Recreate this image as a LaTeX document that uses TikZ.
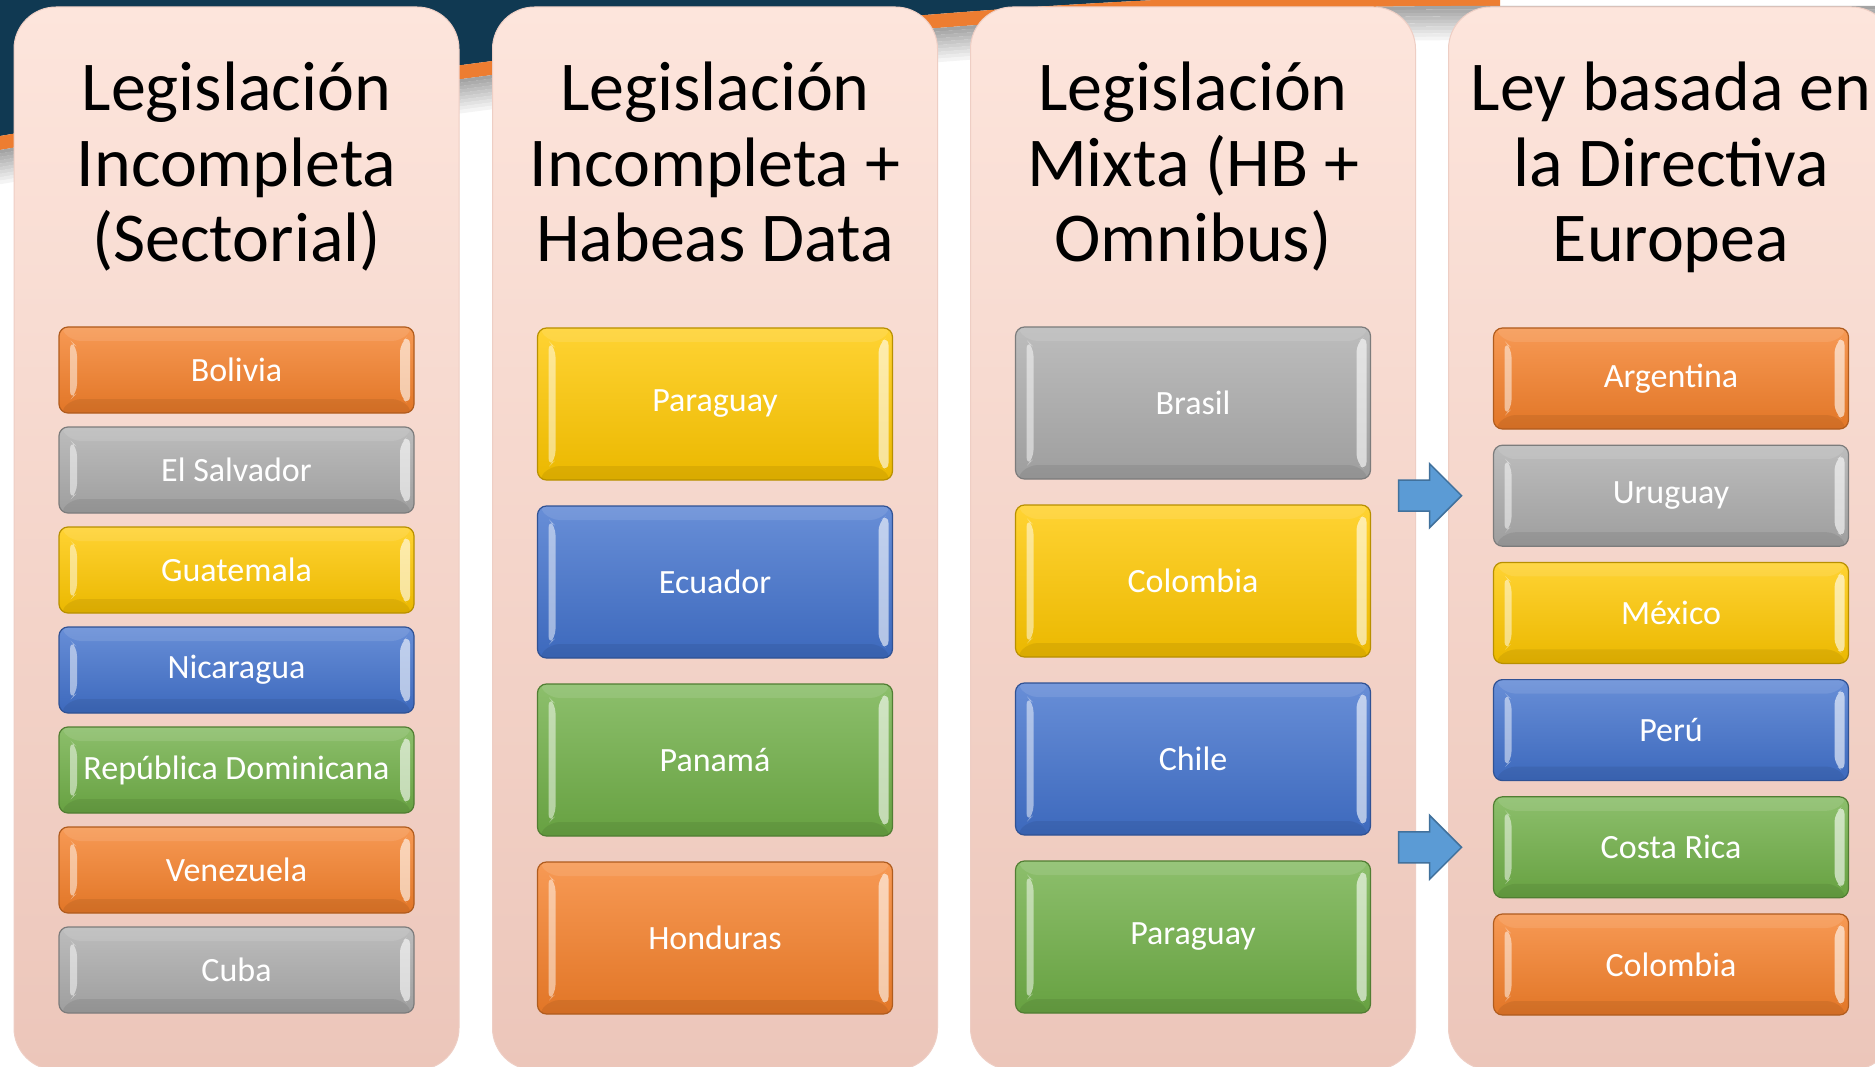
\documentclass[tikz,border=0pt]{standalone}
\usepackage{fontspec}
\setmainfont{Carlito}
\usepackage{tikz}
\usetikzlibrary{positioning}

\definecolor{navyBg}{RGB}{16,57,82}
\definecolor{stripeOrange}{RGB}{237,125,49}
\definecolor{paneTop}{RGB}{253,229,220}
\definecolor{paneBot}{RGB}{236,198,186}
\definecolor{paneEdge}{RGB}{238,206,196}
\definecolor{cOrange}{RGB}{245,128,42}
\definecolor{cGray}{RGB}{172,172,172}
\definecolor{cYellow}{RGB}{255,200,0}
\definecolor{cBlue}{RGB}{66,114,205}
\definecolor{cGreen}{RGB}{112,175,71}
\definecolor{arrowFill}{RGB}{91,155,213}
\definecolor{arrowLine}{RGB}{65,113,156}

\tikzset{
  pane/.style={rectangle, rounded corners=42, minimum width=445, minimum height=1063, inner sep=0, outer sep=0, top color=paneTop, bottom color=paneBot, draw=paneEdge, line width=1},
  titletext/.style={align=center, inner sep=0, text=black, font=\fontsize{70}{75.5}\selectfont},
  bevel/.style={path picture={
      \fill[white, opacity=.5] ([shift={(11,-13)}]path picture bounding box.north west) -- ([shift={(18,-20)}]path picture bounding box.north west) -- ([shift={(18,20)}]path picture bounding box.south west) -- ([shift={(11,13)}]path picture bounding box.south west) -- cycle;
      \fill[white, opacity=.6] ([shift={(-14,-16)}]path picture bounding box.north east) -- ([shift={(-4,-8)}]path picture bounding box.north east) -- ([shift={(-4,8)}]path picture bounding box.south east) -- ([shift={(-14,16)}]path picture bounding box.south east) -- cycle;
      \fill[black, opacity=.07] ([shift={(13,14)}]path picture bounding box.south west) -- ([shift={(-13,14)}]path picture bounding box.south east) -- (path picture bounding box.south east) -- (path picture bounding box.south west) -- cycle;
      \fill[white, opacity=.10] ([shift={(13,-14)}]path picture bounding box.north west) -- ([shift={(-13,-14)}]path picture bounding box.north east) -- (path picture bounding box.north east) -- (path picture bounding box.north west) -- cycle;
  }},
  cbox/.style={rectangle, rounded corners=9, minimum width=355, inner sep=0, outer sep=0, draw=#1!72!black, line width=1.2, top color=#1!80!white, bottom color=#1!92!black, text=white, font=\fontsize{34}{40}\selectfont, bevel},
  shortbox/.style={minimum height=86},
  tallbox/.style={minimum height=152},
  midbox/.style={minimum height=101},
  blockarrow/.style={fill=arrowFill, draw=arrowLine, line width=1.5, line join=miter},
}

\begin{document}
\begin{tikzpicture}[x=1pt, y=1pt]
        \useasboundingbox (0,0) rectangle (1875,-1067);
        \fill[white] (0,0) rectangle (1875,-1067);

        % banner behind the panes
        \fill[navyBg] (0,0) -- (0,-136) .. controls (500,-50) and (1000,10) .. (1500,8) -- (1500,0) -- cycle;
        \fill[stripeOrange] (0,-136) .. controls (500,-50) and (1000,10) .. (1500,8) -- (1500,-6) .. controls (1000,-4) and (500,-64) .. (0,-150) -- cycle;
        \foreach \k [evaluate=\k as \tone using 36-3.5*\k] in {0,...,9}
            \draw[black!\tone, line width=3.6, yshift={-1.8-3.4*\k}] (0,-150) .. controls (500,-64) and (1000,-4) .. (1500,-6) -- (1875,-6);

        % panes and titles
        \node[pane] (paneSect) at (236.5,-538.5) {};
        \node[pane] (paneHabeas) at (715,-538.5) {};
        \node[pane] (paneMixta) at (1193,-538.5) {};
        \node[pane] (paneEuropa) at (1671,-538.5) {};

        \node[titletext, anchor=base] (titleSect) at ([yshift=-255]paneSect.north) {Legislación\\Incompleta\\(Sectorial)};
        \node[titletext, anchor=base] (titleHabeas) at ([yshift=-255]paneHabeas.north) {Legislación\\Incompleta +\\Habeas Data};
        \node[titletext, anchor=base] (titleMixta) at ([yshift=-255]paneMixta.north) {Legislación\\Mixta (HB +\\Omnibus)};
        \node[titletext, anchor=base] (titleEuropa) at ([yshift=-255]paneEuropa.north) {Ley basada en\\la Directiva\\Europea};

        % sectorial
        \node[cbox=cOrange, shortbox, below=320 of paneSect.north] (bBolivia) {Bolivia};
        \node[cbox=cGray, shortbox, below=14 of bBolivia] (bSalvador) {El Salvador};
        \node[cbox=cYellow, shortbox, below=14 of bSalvador] (bGuatemala) {Guatemala};
        \node[cbox=cBlue, shortbox, below=14 of bGuatemala] (bNicaragua) {Nicaragua};
        \node[cbox=cGreen, shortbox, below=14 of bNicaragua] (bDominicana) {República Dominicana};
        \node[cbox=cOrange, shortbox, below=14 of bDominicana] (bVenezuela) {Venezuela};
        \node[cbox=cGray, shortbox, below=14 of bVenezuela] (bCuba) {Cuba};

        % habeas data
        \node[cbox=cYellow, tallbox, below=321 of paneHabeas.north] (bParaguayHD) {Paraguay};
        \node[cbox=cBlue, tallbox, below=26 of bParaguayHD] (bEcuador) {Ecuador};
        \node[cbox=cGreen, tallbox, below=26 of bEcuador] (bPanama) {Panamá};
        \node[cbox=cOrange, tallbox, below=26 of bPanama] (bHonduras) {Honduras};

        % mixta
        \node[cbox=cGray, tallbox, below=320 of paneMixta.north] (bBrasil) {Brasil};
        \node[cbox=cYellow, tallbox, below=26 of bBrasil] (bColombiaMx) {Colombia};
        \node[cbox=cBlue, tallbox, below=26 of bColombiaMx] (bChile) {Chile};
        \node[cbox=cGreen, tallbox, below=26 of bChile] (bParaguayMx) {Paraguay};

        % directiva europea
        \node[cbox=cOrange, midbox, below=321 of paneEuropa.north] (bArgentina) {Argentina};
        \node[cbox=cGray, midbox, below=16.2 of bArgentina] (bUruguay) {Uruguay};
        \node[cbox=cYellow, midbox, below=16.2 of bUruguay] (bMexico) {México};
        \node[cbox=cBlue, midbox, below=16.2 of bMexico] (bPeru) {Perú};
        \node[cbox=cGreen, midbox, below=16.2 of bPeru] (bCostaRica) {Costa Rica};
        \node[cbox=cOrange, midbox, below=16.2 of bCostaRica] (bColombiaEu) {Colombia};

        \draw[blockarrow, shift={(bUruguay.west)}] (-95,15.5) -- (-64,15.5) -- (-64,32) -- (-32,0) -- (-64,-32) -- (-64,-15.5) -- (-95,-15.5) -- cycle;
        \draw[blockarrow, shift={(bCostaRica.west)}] (-95,15.5) -- (-64,15.5) -- (-64,32) -- (-32,0) -- (-64,-32) -- (-64,-15.5) -- (-95,-15.5) -- cycle;
    \end{tikzpicture}
\end{document}
